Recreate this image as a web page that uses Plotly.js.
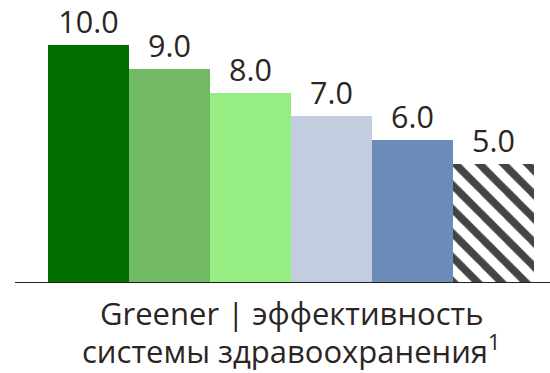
<!DOCTYPE html>
<html>
<head>
<meta charset="utf-8">
<script src="https://cdn.plot.ly/plotly-3.0.1.min.js"></script>
<style>html,body{margin:0;padding:0;background:#fff;}#chart{width:550px;height:373px;}</style>
</head>
<body>
<div id="chart"></div>
<script>
const categories = ["A", "B", "C", "D", "E", "F"];
const values = [10, 9, 8, 7, 6, 5];
const labels = ["10.0", "9.0", "8.0", "7.0", "6.0", "5.0"];
const barColors = ["#006f00", "#72b966", "#96ee82", "#c2cee0", "#6b8bb8", "#ffffff"];
const patternShapes = ["", "", "", "", "", "\\"];
const titleLines = ["Greener | эффективность", "системы здравоохранения<sup>1</sup>"];

const textColor = "#2b2523";
const font = "'Open Sans', 'Noto Sans', sans-serif";

const trace = {
  type: "bar",
  x: categories,
  y: values,
  text: labels,
  textposition: "outside",
  cliponaxis: false,
  textfont: {family: font, size: 30.5, color: textColor},
  hoverinfo: "none",
  marker: {
    color: barColors,
    line: {width: 0},
    pattern: {
      shape: patternShapes,
      fillmode: "overlay",
      fgcolor: "#231f20",
      fgopacity: 1,
      bgcolor: "#ffffff",
      size: 17,
      solidity: 0.45
    }
  }
};

const layout = {
  width: 550,
  height: 373,
  margin: {l: 48, r: 16, t: 45, b: 90},
  paper_bgcolor: "#ffffff",
  plot_bgcolor: "#ffffff",
  bargap: 0,
  showlegend: false,
  font: {family: font, color: textColor},
  xaxis: {
    type: "category",
    range: [-0.5, 5.5],
    showticklabels: false,
    ticks: "",
    showgrid: false,
    zeroline: false,
    showline: false
  },
  yaxis: {
    range: [0, 10],
    visible: false,
    showgrid: false,
    zeroline: false
  },
  annotations: titleLines.map((t, i) => ({
    text: t,
    xref: "paper", yref: "paper",
    x: 0.5, y: 0,
    xanchor: "center", yanchor: "top",
    yshift: -7 - 35 * i,
    showarrow: false,
    font: {family: font, size: 31, color: textColor}
  })),
  shapes: [{
    type: "line",
    xref: "paper", yref: "y",
    x0: -33 / 486, x1: 1 + 16 / 486,
    y0: 0, y1: 0,
    line: {color: "#231f20", width: 2}
  }]
};

Plotly.newPlot("chart", [trace], layout, {displayModeBar: false, staticPlot: true});
</script>
</body>
</html>
